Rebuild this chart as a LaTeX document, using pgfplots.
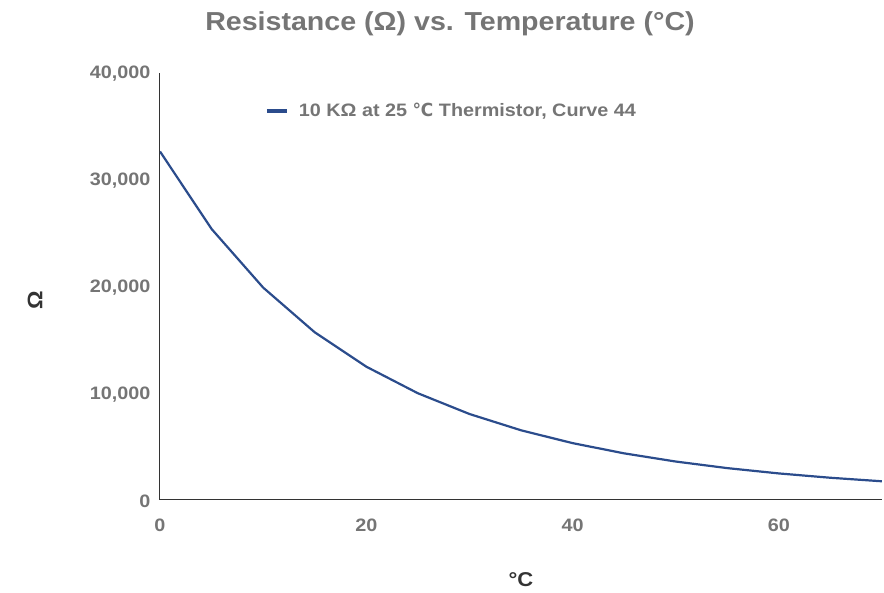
\documentclass[border=0pt]{standalone}
\usepackage{pgfplots}
\pgfplotsset{compat=1.18}
\usepackage{fontspec}
\setmainfont[FakeStretch=1.1]{Liberation Sans}
\newfontfamily\dejavu[FakeStretch=0.95]{DejaVu Sans}
\definecolor{tickgray}{HTML}{757575}
\definecolor{labdark}{HTML}{333333}
\definecolor{curveblue}{HTML}{2B4C8C}
\begin{document}
\begin{tikzpicture}
\path[use as bounding box] (-160pt,-93pt) rectangle (724pt,500pt);
\begin{axis}[
  scale only axis,
  width=722pt, height=427pt,
  xmin=0, xmax=70, ymin=0, ymax=40000,
  axis lines=left,
  axis line style={labdark, line width=1pt, -},
  xtick={0,20,40,60},
  ytick={0,10000,20000,30000,40000},
  major tick length=0pt,
  scaled y ticks=false,
  /pgf/number format/assume math mode=true,
  /pgf/number format/1000 sep={,},
  tick label style={font=\fontsize{18}{20}\selectfont\bfseries, text=tickgray},
  yticklabel style={anchor=east, xshift=-6pt, yshift=-1pt},
  xticklabel style={anchor=center, yshift=-25pt},
  legend style={draw=none, fill=none, at={(0.145,0.911)}, anchor=west,
    font=\fontsize{18}{20}\selectfont\bfseries, text=tickgray, inner sep=0pt,
    /tikz/every even column/.append style={column sep=0pt}},
  legend image code/.code={\draw[line width=4pt, curveblue] (0pt,0pt) -- (20pt,0pt);},
  legend cell align=left,
]
\addplot[curveblue, line width=2.2pt, line join=round] coordinates {
(0,32650) (5,25390) (10,19900) (15,15710) (20,12490) (25,10000) (30,8057)
(35,6531) (40,5327) (45,4369) (50,3603) (55,2986) (60,2488) (65,2083) (70,1752)
};
\addlegendentry{\hspace{8pt}10 KΩ at 25 {\dejavu\bfseries ℃} Thermistor, Curve 44}
\end{axis}
\node[text=tickgray, font=\fontsize{26}{30}\selectfont\bfseries] at (290pt,476pt) {Resistance (Ω) vs. Temperature (°C)};
\node[text=labdark, font=\fontsize{20}{22}\selectfont\bfseries] at (361pt,-80pt) {°C};
\node[text=labdark, font=\fontsize{21}{22}\selectfont\bfseries, rotate=90] at (-125pt,200pt) {Ω};
\end{tikzpicture}
\end{document}
